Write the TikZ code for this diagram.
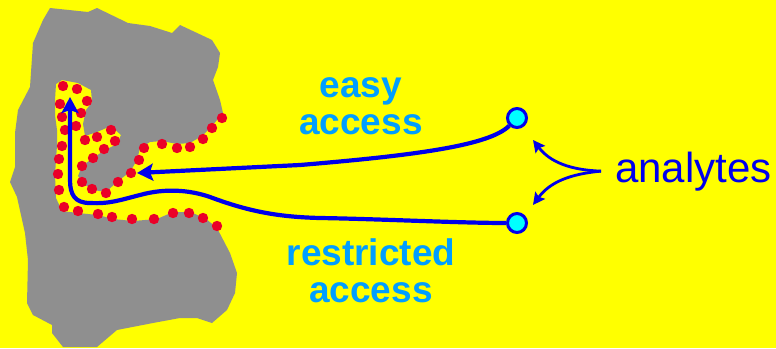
\documentclass[tikz,border=0pt]{standalone}
\usepackage{fontspec}
\setmainfont{Liberation Sans}
\usetikzlibrary{arrows.meta,positioning}

\definecolor{bgyellow}{RGB}{255,255,0}
\definecolor{rockgray}{RGB}{143,143,143}
\definecolor{sitered}{RGB}{235,0,40}
\definecolor{pathblue}{RGB}{0,0,235}
\definecolor{molcyan}{RGB}{0,255,255}
\definecolor{labelblue}{RGB}{0,158,255}

\tikzset{
    flow/.style={draw=pathblue,line width=4.2pt,-{Stealth[length=16pt,width=17pt,inset=3pt]}},
    hint/.style={draw=pathblue,line width=2.8pt,-{Stealth[length=12pt,width=12pt,inset=2pt]}},
    analyte/.style={circle,draw=pathblue,line width=3pt,fill=molcyan,minimum size=19pt,inner sep=0pt},
    site/.style={fill=sitered},
    access/.style={text=labelblue,font=\bfseries\fontsize{37}{37}\selectfont,align=center,inner sep=0pt}
}

\begin{document}
\begin{tikzpicture}[x=1pt,y=-1pt]
    \fill[bgyellow] (0,0) rectangle (776,348);
    \useasboundingbox (0,0) rectangle (776,348);

    % particle with its pore cut in
    \fill[rockgray] (50,8) -- (88,12) -- (97,8) -- (128,23) -- (150,26) -- (172,33)
        -- (180,25) -- (212,40) -- (220,53) -- (218,67) -- (213,80) -- (220,100) -- (223,113)
        -- (212,126) -- (202,136) -- (190,143) -- (177,144) -- (162,141) -- (150,142)
        -- (140,148) -- (137,160) -- (130,172) -- (118,181) -- (106,192) -- (93,190)
        -- (84,184) -- (78,176) -- (82,166) -- (93,158) -- (105,150) -- (117,144)
        -- (121,135) -- (111,126) -- (97,132) -- (85,136) -- (83,124) -- (86,110)
        -- (92,102) -- (91,90) -- (78,83) -- (62,80) -- (56,84)
        -- (55,100) -- (55,115) -- (57,130) -- (57,145) -- (56,160) -- (55,175)
        -- (56,198) -- (62,211) -- (78,213) -- (98,215) -- (113,219) -- (133,221)
        -- (157,219) -- (173,212) -- (190,212) -- (205,218) -- (217,228)
        -- (230,253) -- (237,273) -- (235,293) -- (227,310) -- (212,323) -- (197,318)
        -- (180,318) -- (153,323) -- (117,330) -- (97,347) -- (63,347) -- (52,333)
        -- (52,325) -- (33,315) -- (27,303) -- (28,260) -- (25,233) -- (17,197)
        -- (10,182) -- (15,167) -- (15,133) -- (18,110) -- (30,87) -- (33,43)
        -- (43,20) -- cycle;

    % sites along the pore wall
    \foreach \p in {(63,86),(77,89),(87,101),(60,104),(81,113),(62,117),(76,126),
        (65,130),(85,140),(97,137),(111,130),(115,141),(104,149),(93,158),(82,166),
        (62,146),(59,159),(58,174),(59,190),(64,207),(78,211),(98,214),(112,217),
        (132,219),(154,219),(173,213),(189,213),(203,218),(217,226),(82,182),(92,189),
        (106,193),(118,182),(131,173),(139,160),(144,148),(162,144),(177,148),
        (190,147),(203,139),(212,128),(222,118)}
        \fill[site] \p circle[radius=5.2pt];

    \coordinate (easytip) at (137,173);
    \coordinate (restip) at (70,97);
    \coordinate (uptip) at (533,140);
    \coordinate (downtip) at (533,205);

    \node[analyte] (ein) at (517,118) {};
    \node[analyte] (rin) at (517,223) {};

    \draw[flow] (ein.225) .. controls (490,145) and (420,155) .. (300,165) -- (easytip);
    \draw[flow] (rin.west) .. controls (460,223) and (380,219) .. (320,218)
        .. controls (280,217) and (250,212) .. (210,197)
        .. controls (190,190) and (165,188) .. (140,195)
        .. controls (120,200) and (110,204) .. (90,203)
        .. controls (75,203) and (70,195) .. (70,180) -- (restip);

    \node[access,anchor=north] (easy) at (361,77) {easy\\access};
    \node[access,anchor=north] (restricted) at (371,238) {restricted\\access};

    \node[text=pathblue,font=\fontsize{42}{42}\selectfont,inner sep=0pt,anchor=base west] (ana) at (615,182) {analytes};

    \draw[hint] ([xshift=-14pt]ana.west) .. controls (570,170) and (550,162) .. (uptip);
    \draw[hint] ([xshift=-14pt]ana.west) .. controls (570,174) and (550,182) .. (downtip);
\end{tikzpicture}
\end{document}
